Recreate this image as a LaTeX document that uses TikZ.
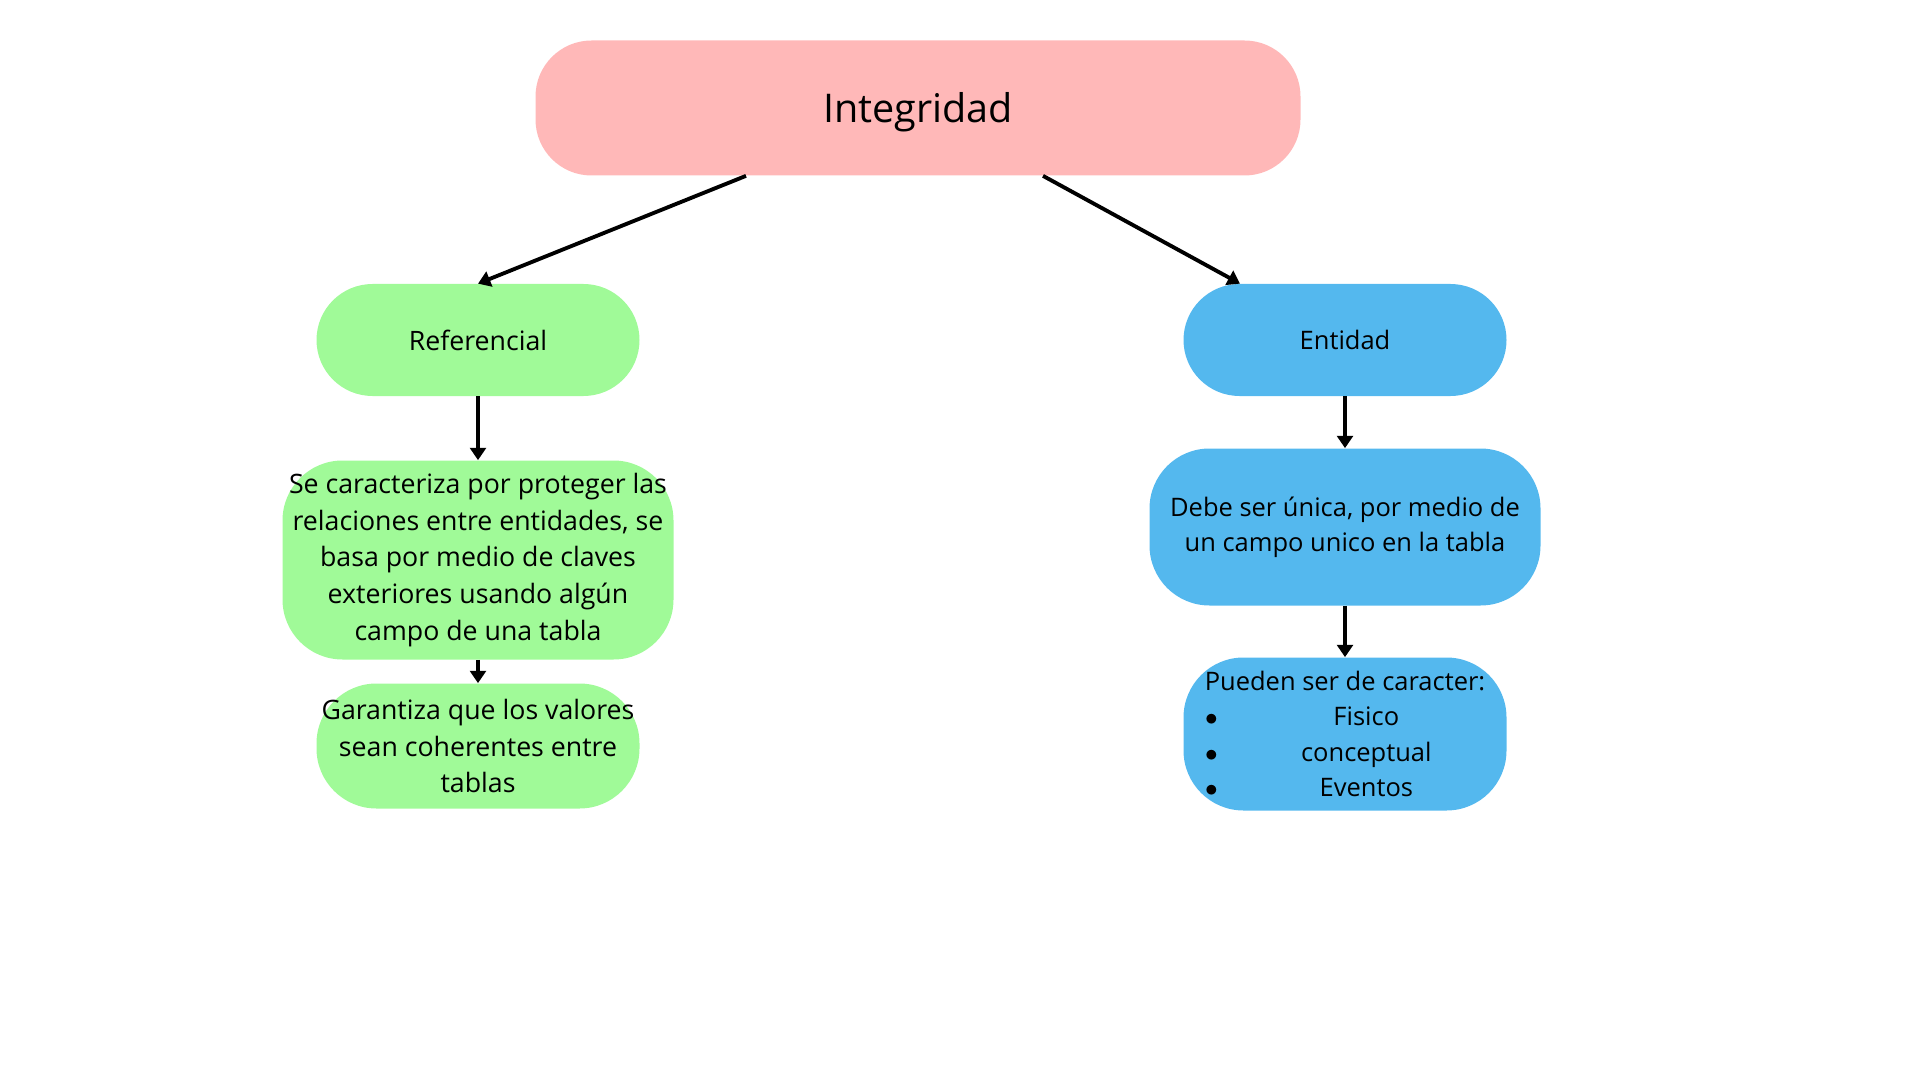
\documentclass[tikz,border=0pt]{standalone}
\usepackage{fontspec}
\setmainfont{Open Sans}
\usetikzlibrary{arrows.meta}
\definecolor{integpink}{HTML}{FFB8B8}
\definecolor{refgreen}{HTML}{A0FA98}
\definecolor{entblue}{HTML}{54B8EE}
\newcommand{\bulletline}[1]{\makebox[5.6cm]{$\bullet$\hspace{0.6cm}\hfill #1\hfill}}

\begin{document}
\begin{tikzpicture}[
    box/.style={rounded corners=1.12cm, inner sep=0pt, align=center, font=\fontsize{15.2}{21}\selectfont},
    greenbox/.style={box, fill=refgreen},
    bluebox/.style={box, fill=entblue, font=\fontsize{14.5}{20}\selectfont},
    conn/.style={line width=2.2pt, -{Triangle[width=9pt,length=7pt]}}
  ]
  \useasboundingbox (0,0) rectangle (38.4,-21.6);

  \node[box, fill=integpink, minimum width=15.3cm, minimum height=2.7cm, font=\fontsize{22.5}{26}\selectfont] (integ) at (18.36,-2.16)
    {\raisebox{0pt}[\dimexpr\height+0.15cm\relax][\depth]{Integridad}};

  % referencial side
  \node[greenbox, minimum width=6.46cm, minimum height=2.24cm] (ref) at (9.56,-6.8) {Referencial};
  \node[greenbox, rounded corners=1.2cm, minimum width=7.82cm, minimum height=3.98cm] (refdesc) at (9.56,-11.2)
    {Se caracteriza por proteger las\\ relaciones entre entidades, se\\ basa por medio de claves\\ exteriores usando algún\\ campo de una tabla};
  \node[greenbox, rounded corners=1.2cm, minimum width=6.46cm, minimum height=2.5cm] (refgar) at (9.56,-14.92)
    {Garantiza que los valores\\ sean coherentes entre\\ tablas};

  % entidad side
  \node[bluebox, minimum width=6.46cm, minimum height=2.24cm] (ent) at (26.9,-6.8) {Entidad};
  \node[bluebox, rounded corners=1.2cm, minimum width=7.82cm, minimum height=3.14cm] (entdesc) at (26.9,-10.54)
    {Debe ser única, por medio de\\ un campo unico en la tabla};
  \node[bluebox, rounded corners=1.2cm, minimum width=6.46cm, minimum height=3.06cm] (enttipo) at (26.9,-14.68)
    {Pueden ser de caracter:\\ \bulletline{Fisico}\\ \bulletline{conceptual}\\ \bulletline{Eventos}};

  \draw[conn] ([xshift=-3.44cm]integ.south) -- (ref.north);
  \draw[conn] ([xshift=2.5cm]integ.south) -- ([xshift=-2.1cm]ent.north);
  \draw[conn] (ref) -- (refdesc);
  \draw[conn] (refdesc) -- (refgar);
  \draw[conn] (ent) -- (entdesc);
  \draw[conn] (entdesc) -- (enttipo);
\end{tikzpicture}
\end{document}
